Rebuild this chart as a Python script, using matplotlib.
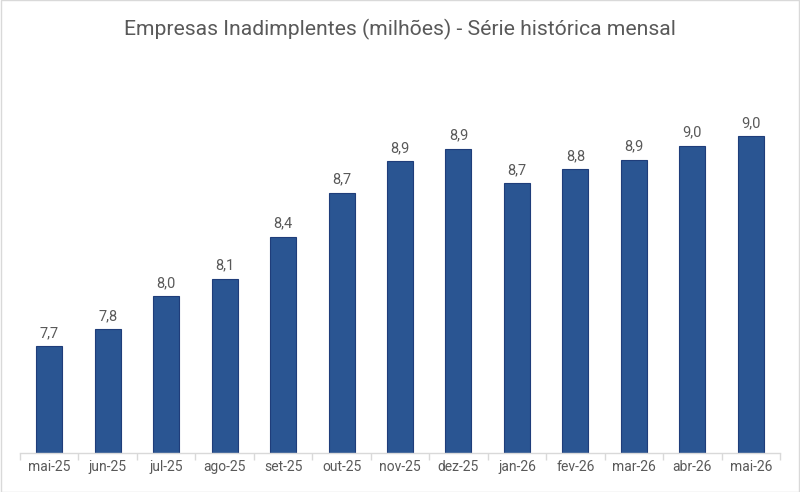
import matplotlib
matplotlib.use("Agg")
import numpy as np
from matplotlib import pyplot as plt
from matplotlib.patches import Rectangle

# Dados (milhões de empresas)
meses = ['mai-25', 'jun-25', 'jul-25', 'ago-25', 'set-25', 'out-25', 'nov-25',
         'dez-25', 'jan-26', 'fev-26', 'mar-26', 'abr-26', 'mai-26']
valores = [7.68, 7.79, 8.00, 8.11, 8.38, 8.66, 8.86, 8.94, 8.72, 8.81, 8.87, 8.96, 9.02]

plt.rcParams['font.family'] = ['Roboto', 'DejaVu Sans']
cinza = '#595959'

fig = plt.figure(figsize=(8, 4.92), dpi=100)
ax = fig.add_axes([0.025, 0.0793, 0.95, 0.797])

x = np.arange(len(meses))
bars = ax.bar(x, valores, width=0.445, color='#2A5592', edgecolor='#1F3D7A', linewidth=0.8)

for xi, v in zip(x, valores):
    ax.text(xi, v + 0.04, f'{v:.1f}'.replace('.', ','), ha='center', va='bottom',
            fontsize=10.5, color=cinza)

ax.set_xlim(-0.5, len(meses) - 0.5)
ax.set_ylim(7.0, 9.5)
ax.set_xticks(x)
ax.set_xticklabels(meses, fontsize=10, color=cinza)
ax.set_xticks(np.arange(-0.5, len(meses)), minor=True)
ax.tick_params(axis='x', which='major', length=0, pad=5)
ax.tick_params(axis='x', which='minor', length=5, color='#D9D9D9', width=1)
ax.set_yticks([])
for s in ['top', 'right', 'left']:
    ax.spines[s].set_visible(False)
ax.spines['bottom'].set_color('#D9D9D9')
ax.spines['bottom'].set_linewidth(1)

fig.text(0.5, 0.941, 'Empresas Inadimplentes (milhões) - Série histórica mensal',
         ha='center', va='center', fontsize=15.2, color=cinza)

fig.patches.append(Rectangle((0.001, 0.001), 0.998, 0.998, transform=fig.transFigure,
                             fill=False, edgecolor='#D9D9D9', linewidth=1))

fig.savefig('out.png', dpi=100)
